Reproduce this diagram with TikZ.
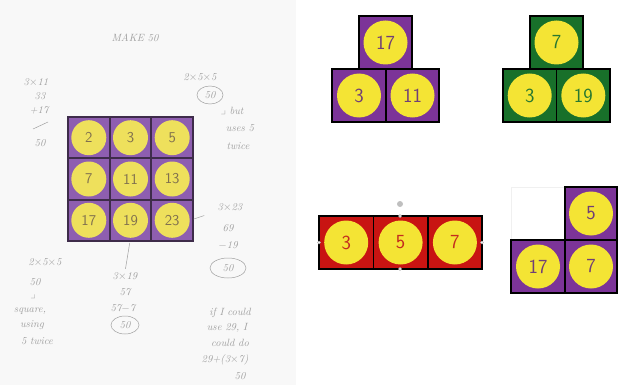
\documentclass[tikz,border=0pt]{standalone}
\usepackage{color}
\usepackage{tikz}
\usepackage{amssymb}
\usepackage{amsmath}
\definecolor{paper}{RGB}{248,248,248}
\definecolor{inkgray}{RGB}{160,160,160}
\definecolor{tilepurple}{RGB}{124,52,152}
\definecolor{tilegreen}{RGB}{24,112,42}
\definecolor{tilered}{RGB}{200,20,18}
\definecolor{discyellow}{RGB}{244,228,52}
\definecolor{purpledigit}{RGB}{112,62,118}
\definecolor{greendigit}{RGB}{40,120,48}
\definecolor{reddigit}{RGB}{196,44,30}
\definecolor{gridpurple}{RGB}{142,94,176}
\definecolor{gridline}{RGB}{62,44,74}
\definecolor{gridyellow}{RGB}{238,224,92}
\definecolor{griddigit}{RGB}{128,112,78}
\begin{document}
\begin{tikzpicture}[x=1pt,y=-1pt,
  disc/.style={circle,fill=discyellow,minimum size=44pt,inner sep=0pt,
    font=\fontsize{20}{20}\selectfont\sffamily},
  griddisc/.style={circle,fill=gridyellow,minimum size=35pt,inner sep=0pt,
    text=griddigit,font=\fontsize{15}{15}\selectfont\sffamily},
  note/.style={text=inkgray,inner sep=0pt,font=\fontsize{10.5}{11}\selectfont\itshape},
  ink/.style={draw=inkgray,line width=0.5pt}]
\useasboundingbox (0,0) rectangle (636,385);
% the photographed sheet:
\path[fill=paper] (0,0) rectangle (296,385);
% 3x3 grid on the sheet:
\path[draw=gridline,line width=1.8pt,fill=gridpurple] (68,117) rectangle (193,241);
\draw[gridline,line width=1.8pt] (109.7,117) -- (109.7,241);
\draw[gridline,line width=1.8pt] (151.3,117) -- (151.3,241);
\draw[gridline,line width=1.8pt] (68,158.3) -- (193,158.3);
\draw[gridline,line width=1.8pt] (68,199.7) -- (193,199.7);
\node[griddisc] (g2) at (88.8,137.7) {2};
\node[griddisc] (g3) at (130.5,137.7) {3};
\node[griddisc] (g5) at (172.2,137.7) {5};
\node[griddisc] (g7) at (88.8,179) {7};
\node[griddisc] (g11) at (130.5,179) {11};
\node[griddisc] (g13) at (172.2,179) {13};
\node[griddisc] (g17) at (88.8,220.3) {17};
\node[griddisc] (g19) at (130.5,220.3) {19};
\node[griddisc] (g23) at (172.2,220.3) {23};
% handwriting round the grid:
\node[note] (title) at (135,38) {MAKE 50};
\node[note] (ta) at (36,82) {3$\times$11};
\node[note] (tb) at (40,96) {33};
\node[note] (tc) at (39,110) {+17};
\node[note] (td) at (40,143) {50};
\draw[ink] (33,129) -- (48,122);
\node[note] (ra) at (200,77) {2$\times$5$\times$5};
\node[note] (rb) at (210,95) {50};
\draw[ink] (rb) ellipse (13pt and 9pt);
\node[note] (rc) at (232,111) {$\lrcorner$ but};
\node[note] (rd) at (240,128) {uses 5};
\node[note] (re) at (238,146) {twice};
\node[note] (sa) at (230,207) {3$\times$23};
\node[note] (sb) at (228,228) {69};
\node[note] (sc) at (228,245) {$-$19};
\node[note] (sd) at (228,268) {50};
\draw[ink] (sd) ellipse (18pt and 10pt);
\draw[ink,shorten <=4pt,shorten >=14pt] (g23.east) -- (sa.south west);
\node[note] (la) at (45,262) {2$\times$5$\times$5};
\node[note] (lb) at (35,282) {50};
\node[note] (lc) at (33,297) {$\lrcorner$};
\node[note] (ld) at (30,311) {square,};
\node[note] (le) at (32,325) {using};
\node[note] (lf) at (37,341) {5 twice};
\node[note] (ma) at (125,276) {3$\times$19};
\node[note] (mb) at (125,292) {57};
\node[note] (mc) at (123,308) {57$-$7};
\node[note] (md) at (125,325) {50};
\draw[ink] (md) ellipse (14pt and 9pt);
\draw[ink,shorten <=5pt,shorten >=3pt] (g19.south) -- (ma.north);
\node[note] (ba) at (230,313) {if I could};
\node[note] (bb) at (227,328) {use 29, I};
\node[note] (bc) at (230,343) {could do};
\node[note] (bd) at (225,360) {29+(3$\times$7)};
\node[note] (be) at (240,376) {50};
% purple pyramid:
\path[draw=black,line width=1.5pt,fill=tilepurple] (359,16) rectangle (412,69);
\path[draw=black,line width=1.5pt,fill=tilepurple] (332,69) rectangle (386,122);
\path[draw=black,line width=1.5pt,fill=tilepurple] (386,69) rectangle (439,122);
\node[disc,text=purpledigit] (pa) at (385.5,42.5) {17};
\node[disc,text=purpledigit] (pb) at (359,95.5) {3};
\node[disc,text=purpledigit] (pc) at (412.5,95.5) {11};
% green pyramid:
\path[draw=black,line width=1.5pt,fill=tilegreen] (530,16) rectangle (583,69);
\path[draw=black,line width=1.5pt,fill=tilegreen] (503,69) rectangle (556.5,122);
\path[draw=black,line width=1.5pt,fill=tilegreen] (556.5,69) rectangle (610,122);
\node[disc,text=greendigit] (ga) at (556.5,42.5) {7};
\node[disc,text=greendigit] (gb) at (529.7,95.5) {3};
\node[disc,text=greendigit] (gc) at (583.3,95.5) {19};
% red row, still selected:
\path[draw=black,line width=1.5pt,fill=tilered] (319,216) rectangle (373.4,269);
\path[draw=black,line width=1.5pt,fill=tilered] (373.4,216) rectangle (427.8,269);
\path[draw=black,line width=1.5pt,fill=tilered] (427.8,216) rectangle (482,269);
\node[disc,text=reddigit] (da) at (346.2,242.5) {3};
\node[disc,text=reddigit] (db) at (400.6,242.5) {5};
\node[disc,text=reddigit] (dc) at (454.9,242.5) {7};
\path[fill=black!25] (400,204) circle (3pt);
\path[draw=black!30,fill=white,line width=0.4pt] (400,216) circle (1.5pt);
\path[draw=black!30,fill=white,line width=0.4pt] (400,269) circle (1.5pt);
\path[draw=black!30,fill=white,line width=0.4pt] (319,242.5) circle (1.5pt);
\path[draw=black!30,fill=white,line width=0.4pt] (482,242.5) circle (1.5pt);
% purple L:
\path[draw=black!6,fill=white] (511,187) rectangle (565,240);
\path[draw=black,line width=1.5pt,fill=tilepurple] (565,187) rectangle (617,240);
\path[draw=black,line width=1.5pt,fill=tilepurple] (511,240) rectangle (565,293);
\path[draw=black,line width=1.5pt,fill=tilepurple] (565,240) rectangle (617,293);
\node[disc,text=purpledigit] (la5) at (591,213.5) {5};
\node[disc,text=purpledigit] (lb17) at (538,266.5) {17};
\node[disc,text=purpledigit] (lc7) at (591,266.5) {7};
\end{tikzpicture}
\end{document}
